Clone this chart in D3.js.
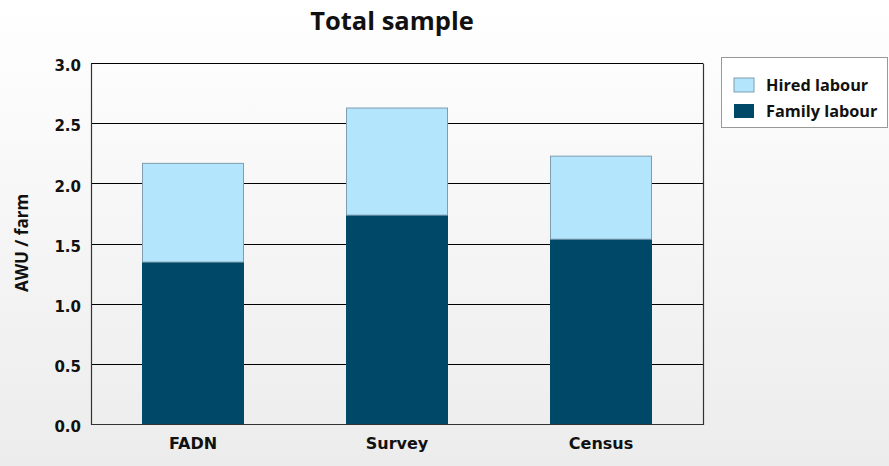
<!DOCTYPE html>
<html><head><meta charset="utf-8">
<script src="https://cdn.jsdelivr.net/npm/d3@7"></script>
<style>html,body{margin:0;padding:0;}svg{display:block;}</style>
</head><body>
<script>
const categories = ["FADN", "Survey", "Census"];
const familyLabour = [1.35, 1.74, 1.54];
const hiredLabour = [0.82, 0.89, 0.69];
const yTicks = [0.0, 0.5, 1.0, 1.5, 2.0, 2.5, 3.0];
const seriesNames = ["Hired labour", "Family labour"];

const W = 889, H = 466;
const margin = {left: 91, right: 186, top: 63, bottom: 42};
const svg = d3.select("body").append("svg").attr("width", W).attr("height", H);
const defs = svg.append("defs");
const grad = defs.append("linearGradient").attr("id", "bg").attr("x1", 0).attr("y1", 0).attr("x2", 0).attr("y2", 1);
grad.append("stop").attr("offset", "0%").attr("stop-color", "#ffffff");
grad.append("stop").attr("offset", "100%").attr("stop-color", "#ececec");
svg.append("rect").attr("width", W).attr("height", H).attr("fill", "url(#bg)");

const x = d3.scaleBand().domain(categories).range([margin.left, W - margin.right]).paddingInner(0.5).paddingOuter(0.25);
const y = d3.scaleLinear().domain([0, 3]).range([H - margin.bottom, margin.top]);

// gridlines
svg.append("g").selectAll("line").data(yTicks).join("line")
  .attr("x1", margin.left).attr("x2", W - margin.right)
  .attr("y1", d => Math.round(y(d)) + 0.5).attr("y2", d => Math.round(y(d)) + 0.5)
  .attr("stroke", "#000").attr("stroke-width", 1);

const data = categories.map((c, i) => ({c, fam: familyLabour[i], hired: hiredLabour[i]}));
const g = svg.append("g");
g.selectAll("rect.fam").data(data).join("rect").attr("class", "fam")
  .attr("x", d => x(d.c)).attr("width", x.bandwidth())
  .attr("y", d => y(d.fam)).attr("height", d => y(0) - y(d.fam))
  .attr("fill", "#004868");
g.selectAll("rect.hired").data(data).join("rect").attr("class", "hired")
  .attr("x", d => x(d.c) + 0.5).attr("width", x.bandwidth() - 1)
  .attr("y", d => y(d.fam + d.hired) + 0.5).attr("height", d => y(d.fam) - y(d.fam + d.hired))
  .attr("fill", "#b3e5fd").attr("stroke", "#7f9db0").attr("stroke-width", 1);

// plot frame
const fx0 = margin.left + 0.5, fx1 = W - margin.right + 0.5, fy0 = Math.round(y(3)) + 0.5, fy1 = Math.round(y(0)) + 0.5;
svg.append("path").attr("d", `M${fx0},${fy0}V${fy1}H${fx1}V${fy0}`).attr("fill", "none").attr("stroke", "#333").attr("stroke-width", 1.2);

// y axis labels
const yAxis = d3.axisLeft(y).tickValues(yTicks).tickFormat(d3.format(".1f")).tickSize(0).tickPadding(10);
const ya = svg.append("g").attr("transform", `translate(${margin.left},3)`).call(yAxis);
ya.select(".domain").remove();
ya.selectAll("text").attr("font-family", "'DejaVu Sans', sans-serif").attr("font-weight", "bold").attr("font-size", 15).attr("fill", "#111");

const xAxis = d3.axisBottom(x).tickSize(0).tickPadding(14);
const xa = svg.append("g").attr("transform", `translate(0,${H - margin.bottom})`).call(xAxis);
xa.select(".domain").remove();
xa.selectAll("text").attr("font-family", "'DejaVu Sans', sans-serif").attr("font-weight", "bold").attr("font-size", 16).attr("fill", "#111");

svg.append("text").attr("x", 392).attr("y", 30).attr("text-anchor", "middle")
  .attr("font-family", "'Open Sans', sans-serif").attr("font-weight", "bold").attr("font-size", 25.5).attr("fill", "#111")
  .text("Total sample");

svg.append("text").attr("transform", `translate(28,243) rotate(-90)`).attr("text-anchor", "middle")
  .attr("font-family", "'Open Sans', sans-serif").attr("font-weight", "bold").attr("font-size", 17).attr("fill", "#111")
  .text("AWU / farm");

// legend
const lg = svg.append("g");
lg.append("rect").attr("x", 721.5).attr("y", 57.5).attr("width", 166).attr("height", 70)
  .attr("fill", "#fff").attr("stroke", "#999");
const legColors = ["#b3e5fd", "#004868"];
const li = lg.selectAll("g.item").data(seriesNames).join("g").attr("class", "item")
  .attr("transform", (d, i) => `translate(734,${78 + i * 26})`);
li.append("rect").attr("width", 20).attr("height", 14).attr("fill", (d, i) => legColors[i]).attr("stroke", (d,i)=> i===0 ? "#7f9db0" : "none");
li.append("text").attr("x", 32).attr("y", 12.5).text(d => d)
  .attr("font-family", "'Open Sans', sans-serif").attr("font-weight", "bold").attr("font-size", 16.3).attr("fill", "#111");
</script>
</body></html>
